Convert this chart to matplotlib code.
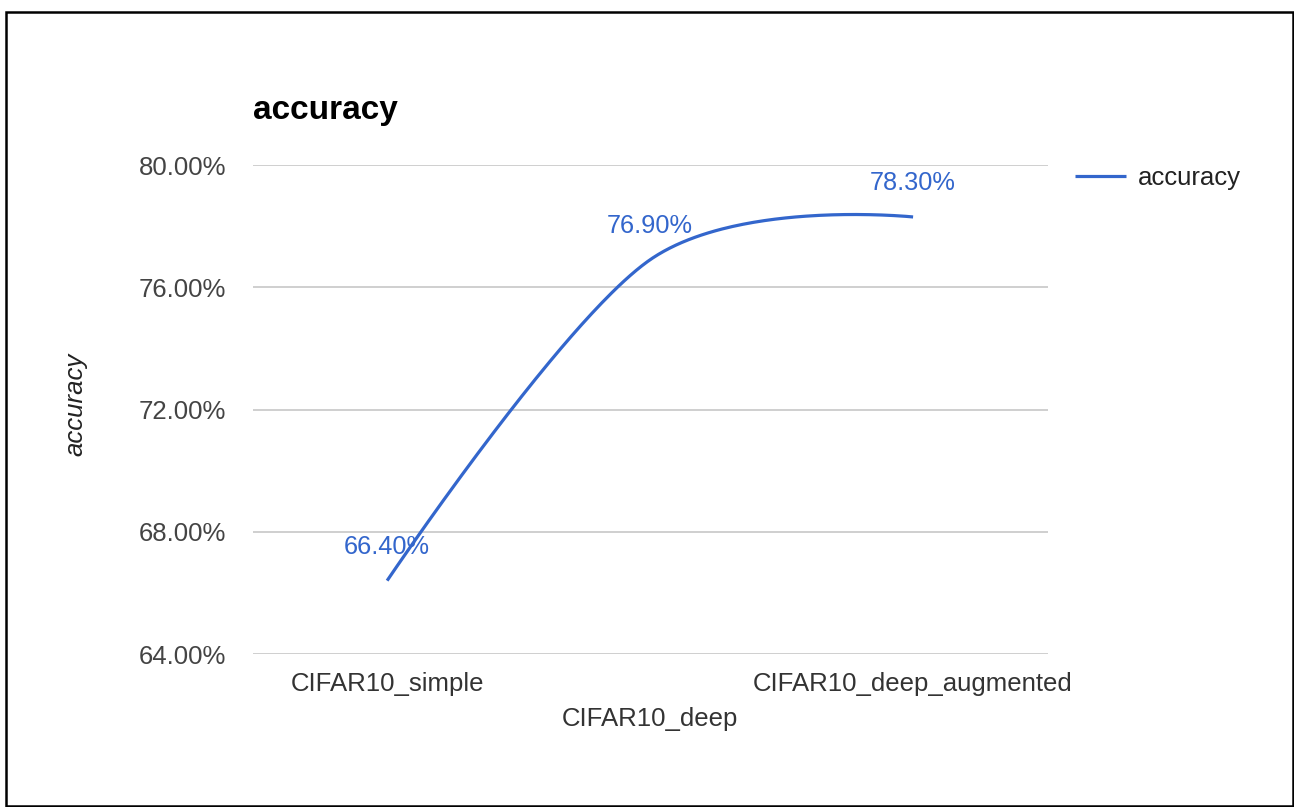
import numpy as np
import matplotlib
matplotlib.use("Agg")
import matplotlib.pyplot as plt
from matplotlib.patches import Rectangle

categories = ["CIFAR10_simple", "CIFAR10_deep", "CIFAR10_deep_augmented"]
accuracy = [66.40, 76.90, 78.30]
y_ticks = [64, 68, 72, 76, 80]
y_tick_labels = ["64.00%", "68.00%", "72.00%", "76.00%", "80.00%"]
point_labels = ["66.40%", "76.90%", "78.30%"]

plt.rcParams['font.family'] = ['Liberation Sans', 'DejaVu Sans']

W, H = 1294, 807
fig = plt.figure(figsize=(W / 100, H / 100), dpi=100)
fig.patch.set_facecolor("white")

L, R, T, B = 253, 1048, 165, 654
ax = fig.add_axes([L / W, 1 - B / H, (R - L) / W, (B - T) / H])

BLUE = "#3366cc"

# smooth curve (Catmull-Rom style cubic Bezier, zero tangents at ends)
xs = np.arange(len(accuracy), dtype=float)
ys = np.array(accuracy, dtype=float)
k = 1.0 / 6.0
curve_x, curve_y = [], []
n = len(xs)
for i in range(n - 1):
    p0 = np.array([xs[i], ys[i]])
    p3 = np.array([xs[i + 1], ys[i + 1]])
    if i == 0:
        c1 = p0
    else:
        c1 = p0 + k * (np.array([xs[i + 1], ys[i + 1]]) - np.array([xs[i - 1], ys[i - 1]]))
    if i + 1 == n - 1:
        c2 = p3
    else:
        c2 = p3 - k * (np.array([xs[i + 2], ys[i + 2]]) - np.array([xs[i], ys[i]]))
    t = np.linspace(0, 1, 100)[:, None]
    pts = (1 - t) ** 3 * p0 + 3 * (1 - t) ** 2 * t * c1 + 3 * (1 - t) * t ** 2 * c2 + t ** 3 * p3
    curve_x.extend(pts[:, 0])
    curve_y.extend(pts[:, 1])

ax.plot(curve_x, curve_y, color=BLUE, lw=2.3, solid_capstyle="butt", label="accuracy", zorder=3)

for xi, yi, lab in zip(xs, ys, point_labels):
    ax.annotate(lab, (xi, yi), xytext=(0, 19.5), textcoords="offset points",
                ha="center", va="baseline", color=BLUE, fontsize=18.3, zorder=4)

ax.set_xlim(-0.51, 2.513)
ax.set_ylim(64, 80)
ax.set_yticks(y_ticks)
ax.set_yticklabels(y_tick_labels)
ax.set_xticks(xs)
ax.set_xticklabels(categories)
ax.tick_params(axis="y", length=0, pad=19.5, labelsize=18.5, labelcolor="#444444")
ax.tick_params(axis="x", length=0, pad=13, labelsize=18.5, labelcolor="#333333")
ax.xaxis.get_major_ticks()[1].set_pad(38)

ax.grid(axis="y", color="#cccccc", lw=1.3)
ax.set_axisbelow(True)
for s in ax.spines.values():
    s.set_visible(False)

leg = ax.legend(loc="center left", bbox_to_anchor=(1075 / W, 1 - 178 / H),
                bbox_transform=fig.transFigure, frameon=False, fontsize=18.5,
                handlelength=2.0, handletextpad=0.45, borderpad=0, borderaxespad=0)
for txt in leg.get_texts():
    txt.set_color("#222222")

fig.text(L / W, 1 - 119 / H, "accuracy", fontsize=24, fontweight="bold",
         ha="left", va="baseline", color="#000000")
fig.text(75 / W, 1 - 404 / H, "accuracy", fontsize=18.5, style="italic",
         rotation=90, ha="center", va="center", color="#222222")

fig.add_artist(Rectangle((6 / W, 1 - 806 / H), (1293 - 6) / W, (806 - 12) / H,
                         transform=fig.transFigure, fill=False, edgecolor="black", lw=1.8))

fig.savefig("out.png", dpi=100)
